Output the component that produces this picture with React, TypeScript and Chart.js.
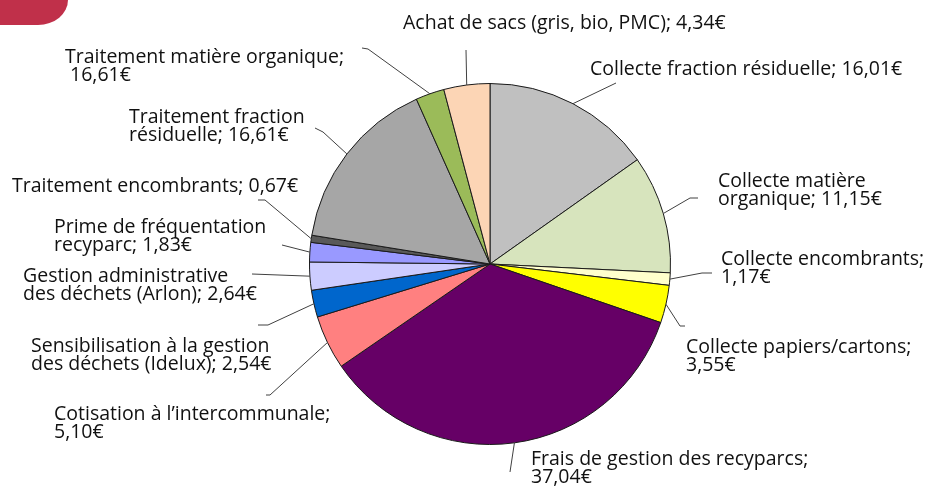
import React, { useEffect, useRef } from "react";
import { Chart, ArcElement, PieController } from "chart.js";

Chart.register(ArcElement, PieController);

// Slices, clockwise from 12 o'clock
const categories = [
  "Collecte fraction résiduelle",
  "Collecte matière organique",
  "Collecte encombrants",
  "Collecte papiers/cartons",
  "Frais de gestion des recyparcs",
  "Cotisation à l’intercommunale",
  "Sensibilisation à la gestion des déchets (Idelux)",
  "Gestion administrative des déchets (Arlon)",
  "Prime de fréquentation recyparc",
  "Traitement encombrants",
  "Traitement fraction résiduelle",
  "Traitement matière organique",
  "Achat de sacs (gris, bio, PMC)",
];

// Slice sizes as drawn in the picture (€)
const values = [16.01, 11.15, 1.17, 3.55, 37.04, 5.1, 2.54, 2.64, 1.83, 0.67, 16.61, 2.7, 4.34];

// Label texts as printed in the picture
const labelTexts = [
  ["Collecte fraction résiduelle; 16,01€"],
  ["Collecte matière", "organique; 11,15€"],
  ["Collecte encombrants;", "1,17€"],
  ["Collecte papiers/cartons;", "3,55€"],
  ["Frais de gestion des recyparcs;", "37,04€"],
  ["Cotisation à l’intercommunale;", "5,10€"],
  ["Sensibilisation à la gestion", "des déchets (Idelux); 2,54€"],
  ["Gestion administrative", "des déchets (Arlon); 2,64€"],
  ["Prime de fréquentation", "recyparc; 1,83€"],
  ["Traitement encombrants; 0,67€"],
  ["Traitement fraction", "résiduelle; 16,61€"],
  ["Traitement matière organique;", " 16,61€"],
  ["Achat de sacs (gris, bio, PMC); 4,34€"],
];

const sliceColors = [
  "#C0C0C0",
  "#D7E4BD",
  "#FFFFCC",
  "#FFFF00",
  "#660066",
  "#FF8080",
  "#0066CC",
  "#CCCCFF",
  "#9999FF",
  "#595959",
  "#A6A6A6",
  "#9BBB59",
  "#FCD5B5",
];

// Label placement (text origin + leader points on the label side)
const labelLayout: { x: number; y: number; leader: [number, number][] }[] = [
  { x: 590, y: 75, leader: [[616, 83]] },
  { x: 718, y: 187, leader: [[698, 198], [690, 198]] },
  { x: 721, y: 265, leader: [[712, 273], [702, 273]] },
  { x: 686, y: 353, leader: [[685, 326], [680, 326]] },
  { x: 531, y: 465, leader: [[510, 472]] },
  { x: 54, y: 420, leader: [[266, 395], [270, 395]] },
  { x: 31, y: 352, leader: [[258, 325], [268, 325]] },
  { x: 23, y: 282, leader: [[252, 274]] },
  { x: 54, y: 233, leader: [[282, 245]] },
  { x: 12, y: 192, leader: [[258, 200], [265, 200]] },
  { x: 129, y: 123, leader: [[315, 128], [323, 132]] },
  { x: 65, y: 63, leader: [[362, 48], [368, 49]] },
  { x: 403, y: 29, leader: [[466, 50]] },
];

const FONT = "19.5px 'Open Sans'";
const LINE_H = 18;

const labelPlugin = {
  id: "outsideLabels",
  afterDatasetsDraw(chart: any) {
    const ctx = chart.ctx as CanvasRenderingContext2D;
    const meta = chart.getDatasetMeta(0);
    ctx.save();
    meta.data.forEach((arc: any, i: number) => {
      const p = arc.getProps(["x", "y", "startAngle", "endAngle", "outerRadius"], true);
      const mid = (p.startAngle + p.endAngle) / 2;
      const ax = p.x + Math.cos(mid) * p.outerRadius;
      const ay = p.y + Math.sin(mid) * p.outerRadius;
      const lay = labelLayout[i];
      ctx.beginPath();
      ctx.strokeStyle = "#404040";
      ctx.lineWidth = 1;
      lay.leader.forEach((pt, k) => {
        if (k === 0) ctx.moveTo(pt[0], pt[1]);
        else ctx.lineTo(pt[0], pt[1]);
      });
      ctx.lineTo(ax, ay);
      ctx.stroke();

      ctx.fillStyle = "#111111";
      ctx.font = FONT;
      ctx.textAlign = "left";
      ctx.textBaseline = "alphabetic";
      labelTexts[i].forEach((line, k) => {
        ctx.fillText(line, lay.x, lay.y + k * LINE_H);
      });
    });
    ctx.restore();
  },
};

export default function App() {
  const ref = useRef<HTMLCanvasElement | null>(null);
  useEffect(() => {
    if (!ref.current) return;
    const chart = new Chart(ref.current, {
      type: "pie",
      data: {
        labels: categories,
        datasets: [
          {
            data: values,
            backgroundColor: sliceColors,
            borderColor: "#1a1a1a",
            borderWidth: 1,
            hoverOffset: 0,
            offset: 0,
          },
        ],
      },
      options: {
        responsive: false,
        animation: false,
        layout: { padding: { left: 309, right: 255, top: 83, bottom: 41 } },
        plugins: {
          legend: { display: false },
          tooltip: { enabled: false },
        },
        events: [],
      },
      plugins: [labelPlugin],
    });
    return () => chart.destroy();
  }, []);

  return (
    <div style={{ position: "fixed", left: 0, top: 0, width: 926, height: 486, background: "#fff", overflow: "hidden" }}>
      <canvas ref={ref} width={926} height={486} style={{ position: "absolute", left: 0, top: 0 }} />
      <div
        style={{
          position: "absolute",
          left: 0,
          top: 0,
          width: 68,
          height: 25,
          background: "#C0304A",
          borderBottomRightRadius: "30px 25px",
        }}
      />
    </div>
  );
}
